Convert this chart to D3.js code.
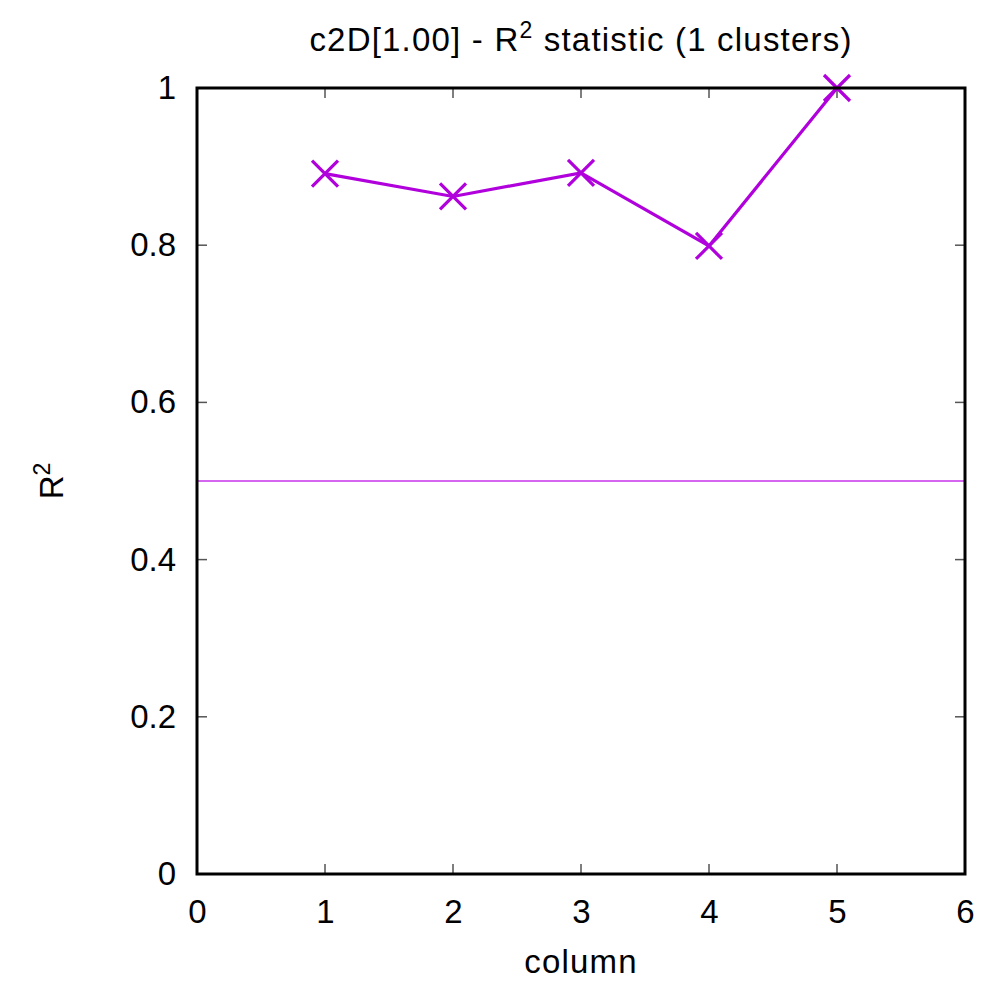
<!DOCTYPE html>
<html><head><meta charset="utf-8">
<script src="https://cdn.jsdelivr.net/npm/d3@7"></script>
<style>body{margin:0;background:#fff;} text{font-family:"Liberation Sans",Arial,sans-serif;}</style>
</head><body>
<svg id="chart" width="989" height="982"></svg>
<script>
const columns = [1, 2, 3, 4, 5];
const r2Values = [0.891, 0.862, 0.892, 0.799, 1.0];
const thresholdValue = 0.5;
const xTicks = [0, 1, 2, 3, 4, 5, 6];
const yTicks = [0, 0.2, 0.4, 0.6, 0.8, 1];
const xDomain = [0, 6];
const yDomain = [0, 1];

const svg = d3.select("#chart");
const L = 197, R = 965, T = 88, B = 874;
const x = d3.scaleLinear().domain(xDomain).range([L, R]);
const y = d3.scaleLinear().domain(yDomain).range([B, T]);
const fs = 33;
const ls = "1.2px";
const lineColor = "#b000dc";

// ticks (inward, mirrored)
const tickG = svg.append("g").attr("stroke", "#555").attr("stroke-width", 1.5);
xTicks.forEach(t => {
  tickG.append("line").attr("x1", x(t)).attr("x2", x(t)).attr("y1", B).attr("y2", B - 10);
  tickG.append("line").attr("x1", x(t)).attr("x2", x(t)).attr("y1", T).attr("y2", T + 10);
});
yTicks.forEach(t => {
  tickG.append("line").attr("x1", L).attr("x2", L + 10).attr("y1", y(t)).attr("y2", y(t));
  tickG.append("line").attr("x1", R).attr("x2", R - 10).attr("y1", y(t)).attr("y2", y(t));
});

// axis labels via d3 axes (no lines)
const xAxis = svg.append("g").attr("transform", `translate(0,${B})`)
  .call(d3.axisBottom(x).tickValues(xTicks).tickFormat(d3.format("d")).tickSize(0).tickPadding(26));
xAxis.select(".domain").remove();
xAxis.selectAll("text").attr("font-size", fs).attr("fill", "#000").attr("font-family", "Liberation Sans, Arial, sans-serif");

const yAxis = svg.append("g").attr("transform", `translate(${L},0)`)
  .call(d3.axisLeft(y).tickValues(yTicks).tickFormat(d => d === 0 ? "0" : d === 1 ? "1" : d3.format(".1f")(d)).tickSize(0).tickPadding(21));
yAxis.select(".domain").remove();
yAxis.selectAll("text").attr("font-size", fs).attr("fill", "#000").attr("font-family", "Liberation Sans, Arial, sans-serif");

// threshold line
svg.append("line").attr("x1", L).attr("x2", R)
  .attr("y1", y(thresholdValue)).attr("y2", y(thresholdValue))
  .attr("stroke", "#d466f0").attr("stroke-width", 2);

// data line
const lineGen = d3.line().x((d, i) => x(columns[i])).y(d => y(d));
svg.append("path").datum(r2Values).attr("d", lineGen)
  .attr("fill", "none").attr("stroke", lineColor).attr("stroke-width", 3.2);

// x markers
const m = 13;
r2Values.forEach((v, i) => {
  const cx = x(columns[i]), cy = y(v);
  svg.append("path").attr("d", `M${cx - m},${cy - m}L${cx + m},${cy + m}M${cx - m},${cy + m}L${cx + m},${cy - m}`)
    .attr("stroke", lineColor).attr("stroke-width", 3.2).attr("fill", "none");
});

// frame
svg.append("rect").attr("x", L).attr("y", T).attr("width", R - L).attr("height", B - T)
  .attr("fill", "none").attr("stroke", "#000").attr("stroke-width", 3);

// title
const title = svg.append("text").attr("x", (L + R) / 2).attr("y", 51).attr("text-anchor", "middle")
  .attr("font-size", fs).attr("letter-spacing", ls);
title.append("tspan").text("c2D[1.00] - R");
title.append("tspan").text("2").attr("font-size", 23).attr("dy", -13);
title.append("tspan").text(" statistic (1 clusters)").attr("dy", 13);

// x label
svg.append("text").attr("x", (L + R) / 2).attr("y", 973).attr("text-anchor", "middle")
  .attr("font-size", fs).attr("letter-spacing", ls).text("column");

// y label
const yl = svg.append("text").attr("transform", `translate(63,${y(thresholdValue)}) rotate(-90)`)
  .attr("text-anchor", "middle").attr("font-size", fs);
yl.append("tspan").text("R");
yl.append("tspan").text("2").attr("font-size", 23).attr("dy", -13);
</script>
</body></html>
